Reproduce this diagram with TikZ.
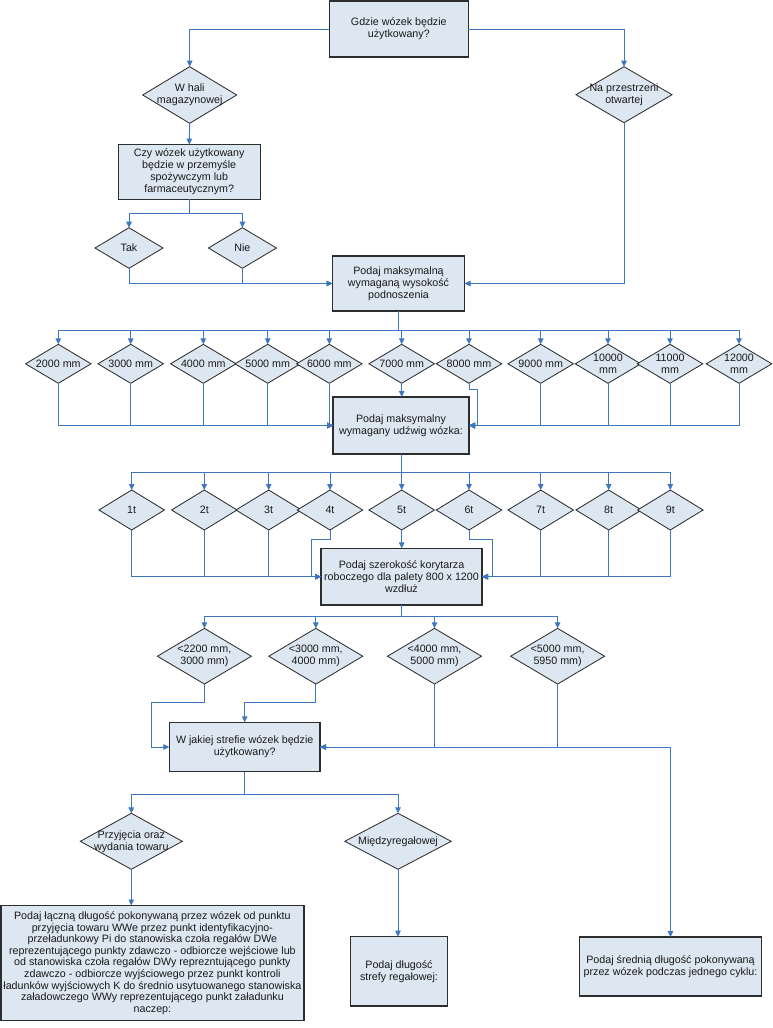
\documentclass[tikz,border=0pt]{standalone}
\usepackage{fontspec}
\setmainfont{Liberation Sans}
\usetikzlibrary{shapes.geometric,arrows.meta}
\definecolor{boxfill}{RGB}{221,231,242}
\definecolor{conncol}{RGB}{62,119,190}
\definecolor{boxline}{RGB}{45,45,45}
\begin{document}
\begin{tikzpicture}[x=1pt,y=-1pt,
  txt/.style={font=\fontsize{10.7}{12}\selectfont, align=center, text=black!90},
  box/.style={draw=boxline, line width=1.3pt, fill=boxfill, txt, inner sep=0pt, outer sep=0pt},
  dia/.style={diamond, draw=black!85, line width=0.8pt, fill=boxfill, inner sep=0pt, outer sep=0pt},
  conn/.style={draw=conncol, line width=1pt, -{Triangle[length=6pt,width=5.5pt]}}]
\useasboundingbox (0,0) rectangle (773,1028);
\fill[white] (0,0) rectangle (773,1028);
% top
\node[box, minimum width=139pt, minimum height=56pt] (q1) at (398.8,29) {Gdzie wózek będzie\\użytkowany?};
\node[dia, minimum width=94pt, minimum height=56.6pt, label={[txt]center:W hali\\magazynowej}] (dh) at (189.7,95) {};
\node[dia, minimum width=96pt, minimum height=56pt, label={[txt]center:Na przestrzeni\\otwartej}] (dopen) at (624,94.7) {};
\node[box, minimum width=142pt, minimum height=54.6pt] (q2) at (189.2,172) {Czy wózek użytkowany\\będzie w przemyśle\\spożywczym lub\\farmaceutycznym?};
\node[dia, minimum width=68pt, minimum height=40.6pt, label={[txt]center:Tak}] (tak) at (129,248) {};
\node[dia, minimum width=68pt, minimum height=40.6pt, label={[txt]center:Nie}] (nie) at (242.4,248) {};
\node[box, minimum width=132pt, minimum height=55pt] (q3) at (398.5,283.5) {Podaj maksymalną\\wymaganą wysokość\\podnoszenia};
% row 1
\foreach \n/\x/\t in {1/58.3/2000 mm,2/130.7/3000 mm,3/203.3/4000 mm,4/267.7/5000 mm,5/329.3/6000 mm,6/401.7/7000 mm,7/469/8000 mm,8/540.7/9000 mm,9/608/10000\\mm,10/670/11000\\mm,11/739/12000\\mm}
  \node[dia, minimum width=65.5pt, minimum height=39pt, label={[txt]center:\t}] (h\n) at (\x,363.8) {};
\node[box, minimum width=136pt, minimum height=57pt] (q4) at (401,425.5) {Podaj maksymalny\\wymagany udźwig wózka:};
% row 2
\foreach \n/\x in {1/131.7,2/204.3,3/268.7,4/330,5/401.7,6/469,7/540.7,8/608.7,9/670.3}
  \node[dia, minimum width=65.5pt, minimum height=40pt, label={[txt]center:\n t}] (t\n) at (\x,510) {};
\node[box, minimum width=161pt, minimum height=56.7pt] (q5) at (401.5,576.7) {Podaj szerokość korytarza\\roboczego dla palety 800 x 1200\\wzdłuż};
% row 3
\foreach \n/\x/\t in {1/204.4/{<2200 mm,\\3000 mm)},2/315.8/{<3000 mm,\\4000 mm)},3/434.5/{<4000 mm,\\5000 mm)},4/557.6/{<5000 mm,\\5950 mm)}}
  \node[dia, minimum width=94pt, minimum height=55.7pt, label={[txt]center:\t}] (w\n) at (\x,656.2) {};
\node[box, minimum width=150.7pt, minimum height=49.4pt] (q6) at (244.7,747) {W jakiej strefie wózek będzie\\użytkowany?};
% row 4
\node[dia, minimum width=102pt, minimum height=56pt, label={[txt]center:Przyjęcia oraz\\wydania towaru}] (z1) at (131.3,841.3) {};
\node[dia, minimum width=106.4pt, minimum height=56pt, label={[txt]center:Międzyregałowej}] (z2) at (398,841.3) {};
\node[box, minimum width=303pt, minimum height=115pt, font=\fontsize{10.7}{11.6}\selectfont] (r1) at (152.4,963) {Podaj łączną długość pokonywaną przez wózek od punktu\\przyjęcia towaru WWe przez punkt identyfikacyjno-\\przeładunkowy Pi do stanowiska czoła regałów DWe\\reprezentującego punkty zdawczo - odbiorcze wejściowe lub\\od stanowiska czoła regałów DWy reprezntującego punkty\\zdawczo - odbiorcze wyjściowego przez punkt kontroli\\ładunków wyjściowych K do średnio usytuowanego stanowiska\\załadowczego WWy reprezentującego punkt załadunku\\naczep:};
\node[box, minimum width=96.6pt, minimum height=69.3pt] (r2) at (399,971.3) {Podaj długość\\strefy regałowej:};
\node[box, minimum width=182.4pt, minimum height=59pt] (r3) at (670.5,966.5) {Podaj średnią długość pokonywaną\\przez wózek podczas jednego cyklu:};
% connectors top
\draw[conn] (q1.west) -| (dh.north);
\draw[conn] (q1.east) -| (dopen.north);
\draw[conn] (dh.south) -- (q2.north);
\foreach \n in {tak,nie} \draw[conn] (q2.south) -- ++(0,14) -| (\n.north);
\draw[conn] (tak.south) |- (q3.west);
\draw[conn] (nie.south) |- (q3.west);
\draw[conn] (dopen.south) |- (q3.east);
% row 1
\foreach \n in {1,...,11} \draw[conn] (q3.south) -- ++(0,19.7) -| (h\n.north);
\foreach \n in {1,...,5} \draw[conn] (h\n.south) |- (q4.west);
\draw[conn] (h6.south) -- (h6.south |- q4.north);
\draw[conn] (h7.south) -- ++(0,6) -- ++(8,0) |- (q4.east);
\foreach \n in {8,...,11} \draw[conn] (h\n.south) |- (q4.east);
% row 2
\foreach \n in {1,...,9} \draw[conn] (q4.south) -- ++(0,18.7) -| (t\n.north);
\foreach \n in {1,2,3} \draw[conn] (t\n.south) |- (q5.west);
\draw[conn] (t4.south) -- ++(0,9) -- ++(-18.3,0) |- (q5.west);
\draw[conn] (t5.south) -- (t5.south |- q5.north);
\draw[conn] (t6.south) -- ++(0,9) -- ++(23,0) |- (q5.east);
\foreach \n in {7,8,9} \draw[conn] (t\n.south) |- (q5.east);
% row 3
\foreach \n in {1,...,4} \draw[conn] (q5.south) -- ++(0,11.7) -| (w\n.north);
\draw[conn] (w1.south) -- ++(0,18.3) -- ++(-52.7,0) |- (q6.west);
\draw[conn] (w2.south) -- ++(0,18.3) -| (q6.north);
\draw[conn] (w3.south) |- (q6.east);
\draw[conn] (w4.south) |- (q6.east);
\draw[conn] (q6.east) -| (r3.north);
% row 4
\foreach \n in {z1,z2} \draw[conn] (q6.south) -- ++(0,22.3) -| (\n.north);
\draw[conn] (z1.south) -- (z1.south |- r1.north);
\draw[conn] (z2.south) -- (z2.south |- r2.north);
\end{tikzpicture}
\end{document}
